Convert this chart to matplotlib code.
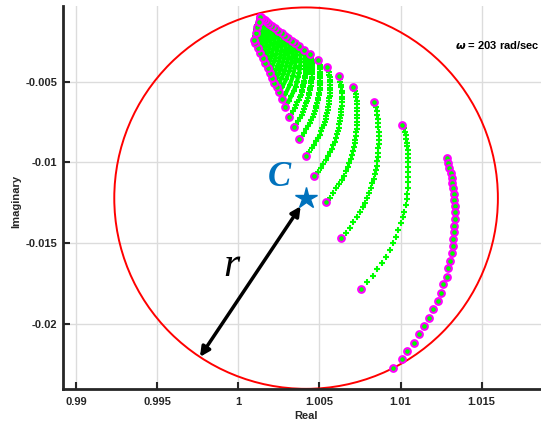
import matplotlib
matplotlib.use("Agg")
import matplotlib.pyplot as plt
from matplotlib.patches import Circle

# ---- data (real / imaginary parts) ----
# outermost curve, every point highlighted
c0_re = [1.01284, 1.01294, 1.01300, 1.01309, 1.01315, 1.01319, 1.01325, 1.01327, 1.01331, 1.01333, 1.01333,
         1.01333, 1.01331, 1.01329, 1.01325, 1.01321, 1.01315, 1.01305, 1.01294, 1.01284, 1.01263, 1.01247,
         1.01229, 1.01202, 1.01177, 1.01146, 1.01115, 1.01083, 1.01041, 1.01007, 1.00955]
c0_im = [-0.00975, -0.01006, -0.01037, -0.01068, -0.01099, -0.01130, -0.01161, -0.01196, -0.01233, -0.01270,
         -0.01309, -0.01351, -0.01392, -0.01433, -0.01475, -0.01518, -0.01563, -0.01609, -0.01656, -0.01708,
         -0.01756, -0.01808, -0.01859, -0.01911, -0.01963, -0.02014, -0.02066, -0.02118, -0.02169, -0.02220,
         -0.02273]

c1_re = [1.01011, 1.01019, 1.01025, 1.01032, 1.01035, 1.01040, 1.01041, 1.01044, 1.01046, 1.01048, 1.01049,
         1.01049, 1.01049, 1.01048, 1.01046, 1.01044, 1.01041, 1.01038, 1.01032, 1.01023, 1.01013, 1.01003,
         1.00986, 1.00972, 1.00955, 1.00935, 1.00910, 1.00884, 1.00857, 1.00828, 1.00795, 1.00756]
c1_im = [-0.00766, -0.00789, -0.00810, -0.00832, -0.00855, -0.00878, -0.00900, -0.00925, -0.00950, -0.00975,
         -0.01001, -0.01029, -0.01060, -0.01090, -0.01125, -0.01161, -0.01196, -0.01229, -0.01264, -0.01306,
         -0.01340, -0.01377, -0.01419, -0.01461, -0.01501, -0.01543, -0.01585, -0.01625, -0.01663, -0.01704,
         -0.01743, -0.01783]

c2_re = [1.00836, 1.00847, 1.00853, 1.00857, 1.00861, 1.00863, 1.00864, 1.00865, 1.00865, 1.00865, 1.00865,
         1.00863, 1.00861, 1.00859, 1.00856, 1.00852, 1.00847, 1.00841, 1.00834, 1.00826, 1.00818, 1.00808,
         1.00796, 1.00783, 1.00767, 1.00750, 1.00731, 1.00710, 1.00687, 1.00661, 1.00631]
c2_im = [-0.00627, -0.00655, -0.00680, -0.00706, -0.00731, -0.00758, -0.00784, -0.00810, -0.00836, -0.00861,
         -0.00888, -0.00914, -0.00940, -0.00967, -0.00993, -0.01020, -0.01047, -0.01075, -0.01103, -0.01131,
         -0.01160, -0.01190, -0.01219, -0.01249, -0.01279, -0.01309, -0.01340, -0.01371, -0.01404, -0.01436,
         -0.01470]

c3_re = [1.00710, 1.00719, 1.00724, 1.00727, 1.00730, 1.00732, 1.00733, 1.00733, 1.00733, 1.00733, 1.00733,
         1.00732, 1.00730, 1.00728, 1.00726, 1.00722, 1.00718, 1.00713, 1.00707, 1.00700, 1.00694, 1.00685,
         1.00675, 1.00664, 1.00651, 1.00637, 1.00622, 1.00604, 1.00586, 1.00564, 1.00540]
c3_im = [-0.00532, -0.00555, -0.00575, -0.00597, -0.00618, -0.00640, -0.00662, -0.00683, -0.00705, -0.00726,
         -0.00749, -0.00770, -0.00793, -0.00815, -0.00837, -0.00860, -0.00883, -0.00907, -0.00931, -0.00955,
         -0.00980, -0.01006, -0.01030, -0.01056, -0.01082, -0.01108, -0.01135, -0.01161, -0.01190, -0.01218,
         -0.01247]

c4_re = [1.00618, 1.00626, 1.00630, 1.00633, 1.00636, 1.00637, 1.00638, 1.00638, 1.00638, 1.00637, 1.00637,
         1.00636, 1.00634, 1.00633, 1.00630, 1.00627, 1.00623, 1.00619, 1.00614, 1.00608, 1.00602, 1.00595,
         1.00586, 1.00577, 1.00565, 1.00553, 1.00539, 1.00524, 1.00508, 1.00489, 1.00468]
c4_im = [-0.00463, -0.00483, -0.00500, -0.00518, -0.00536, -0.00555, -0.00573, -0.00592, -0.00610, -0.00628,
         -0.00648, -0.00667, -0.00686, -0.00705, -0.00724, -0.00744, -0.00764, -0.00785, -0.00806, -0.00827,
         -0.00848, -0.00871, -0.00893, -0.00915, -0.00938, -0.00961, -0.00985, -0.01009, -0.01033, -0.01058,
         -0.01084]

c5_re = [1.00548, 1.00555, 1.00558, 1.00561, 1.00563, 1.00564, 1.00564, 1.00565, 1.00565, 1.00564, 1.00564,
         1.00563, 1.00561, 1.00560, 1.00558, 1.00555, 1.00552, 1.00548, 1.00543, 1.00538, 1.00533, 1.00527,
         1.00519, 1.00511, 1.00501, 1.00490, 1.00479, 1.00466, 1.00452, 1.00436, 1.00417]
c5_im = [-0.00411, -0.00427, -0.00442, -0.00458, -0.00473, -0.00489, -0.00505, -0.00521, -0.00538, -0.00553,
         -0.00570, -0.00587, -0.00604, -0.00621, -0.00638, -0.00655, -0.00673, -0.00692, -0.00710, -0.00729,
         -0.00748, -0.00768, -0.00788, -0.00808, -0.00829, -0.00849, -0.00870, -0.00892, -0.00914, -0.00936,
         -0.00960]

c6_re = [1.00492, 1.00498, 1.00501, 1.00503, 1.00505, 1.00506, 1.00506, 1.00506, 1.00506, 1.00506, 1.00506,
         1.00504, 1.00503, 1.00502, 1.00500, 1.00497, 1.00494, 1.00491, 1.00487, 1.00482, 1.00478, 1.00472,
         1.00465, 1.00458, 1.00450, 1.00440, 1.00430, 1.00419, 1.00406, 1.00393, 1.00377]
c6_im = [-0.00368, -0.00383, -0.00396, -0.00409, -0.00422, -0.00437, -0.00451, -0.00465, -0.00479, -0.00493,
         -0.00508, -0.00523, -0.00537, -0.00553, -0.00568, -0.00584, -0.00599, -0.00616, -0.00632, -0.00649,
         -0.00666, -0.00684, -0.00702, -0.00721, -0.00739, -0.00757, -0.00776, -0.00796, -0.00816, -0.00836,
         -0.00857]

c7_re = [1.00443, 1.00448, 1.00450, 1.00452, 1.00454, 1.00455, 1.00455, 1.00455, 1.00455, 1.00455, 1.00455,
         1.00454, 1.00452, 1.00451, 1.00450, 1.00447, 1.00445, 1.00442, 1.00438, 1.00434, 1.00431, 1.00426,
         1.00420, 1.00414, 1.00406, 1.00398, 1.00390, 1.00379, 1.00368, 1.00356, 1.00343]
c7_im = [-0.00331, -0.00344, -0.00355, -0.00367, -0.00379, -0.00391, -0.00404, -0.00416, -0.00429, -0.00441,
         -0.00455, -0.00468, -0.00482, -0.00496, -0.00510, -0.00524, -0.00539, -0.00554, -0.00569, -0.00585,
         -0.00601, -0.00619, -0.00634, -0.00652, -0.00669, -0.00686, -0.00704, -0.00724, -0.00742, -0.00761,
         -0.00781]

c8_re = [1.00408, 1.00412, 1.00414, 1.00416, 1.00417, 1.00418, 1.00418, 1.00418, 1.00418, 1.00418, 1.00418,
         1.00417, 1.00415, 1.00415, 1.00413, 1.00411, 1.00408, 1.00405, 1.00402, 1.00398, 1.00395, 1.00391,
         1.00385, 1.00380, 1.00373, 1.00365, 1.00358, 1.00348, 1.00338, 1.00327, 1.00315]
c8_im = [-0.00305, -0.00317, -0.00326, -0.00337, -0.00347, -0.00358, -0.00370, -0.00381, -0.00392, -0.00404,
         -0.00416, -0.00428, -0.00440, -0.00453, -0.00466, -0.00479, -0.00493, -0.00507, -0.00521, -0.00535,
         -0.00550, -0.00566, -0.00581, -0.00597, -0.00613, -0.00629, -0.00646, -0.00663, -0.00681, -0.00699,
         -0.00718]

# inner, tightly packed curves
c9_re = [1.00375, 1.00381, 1.00383, 1.00384, 1.00384, 1.00383, 1.00381, 1.00378, 1.00375, 1.00368, 1.00362,
         1.00353, 1.00341, 1.00327, 1.00310, 1.00288]
c9_im = [-0.00280, -0.00299, -0.00317, -0.00337, -0.00358, -0.00379, -0.00401, -0.00424, -0.00449, -0.00474,
         -0.00501, -0.00530, -0.00559, -0.00589, -0.00622, -0.00655]
c10_re = [1.00350, 1.00357, 1.00357, 1.00355, 1.00348, 1.00337, 1.00318, 1.00290, 1.00271]
c10_im = [-0.00261, -0.00295, -0.00332, -0.00372, -0.00416, -0.00465, -0.00519, -0.00578, -0.00610]
c11_re = [1.00329, 1.00336, 1.00336, 1.00333, 1.00326, 1.00315, 1.00297, 1.00270, 1.00251]
c11_im = [-0.00246, -0.00276, -0.00310, -0.00346, -0.00387, -0.00432, -0.00482, -0.00536, -0.00565]
c12_re = [1.00309, 1.00315, 1.00315, 1.00311, 1.00306, 1.00295, 1.00278, 1.00253, 1.00237]
c12_im = [-0.00230, -0.00258, -0.00289, -0.00323, -0.00362, -0.00405, -0.00453, -0.00506, -0.00534]
c13_re = [1.00288, 1.00294, 1.00293, 1.00291, 1.00285, 1.00275, 1.00260, 1.00237, 1.00222]
c13_im = [-0.00215, -0.00240, -0.00269, -0.00301, -0.00337, -0.00379, -0.00426, -0.00478, -0.00506]
c14_re = [1.00267, 1.00272, 1.00272, 1.00269, 1.00264, 1.00256, 1.00243, 1.00223, 1.00210]
c14_im = [-0.00199, -0.00221, -0.00248, -0.00278, -0.00313, -0.00354, -0.00400, -0.00452, -0.00480]
c15_re = [1.00246, 1.00250, 1.00250, 1.00247, 1.00243, 1.00235, 1.00223, 1.00206, 1.00195]
c15_im = [-0.00184, -0.00202, -0.00226, -0.00254, -0.00288, -0.00327, -0.00371, -0.00421, -0.00448]
c16_re = [1.00225, 1.00228, 1.00228, 1.00226, 1.00222, 1.00215, 1.00205, 1.00190, 1.00181]
c16_im = [-0.00168, -0.00184, -0.00205, -0.00231, -0.00262, -0.00299, -0.00342, -0.00391, -0.00417]
c17_re = [1.00207, 1.00209, 1.00209, 1.00206, 1.00202, 1.00196, 1.00186, 1.00173, 1.00165]
c17_im = [-0.00154, -0.00168, -0.00186, -0.00210, -0.00239, -0.00273, -0.00314, -0.00360, -0.00386]
c18_re = [1.00190, 1.00192, 1.00191, 1.00188, 1.00184, 1.00178, 1.00169, 1.00157, 1.00150]
c18_im = [-0.00141, -0.00152, -0.00168, -0.00190, -0.00216, -0.00249, -0.00287, -0.00331, -0.00355]
c19_re = [1.00176, 1.00177, 1.00176, 1.00173, 1.00168, 1.00162, 1.00153, 1.00141, 1.00134]
c19_im = [-0.00131, -0.00140, -0.00153, -0.00172, -0.00196, -0.00226, -0.00261, -0.00302, -0.00324]
c20_re = [1.00162, 1.00163, 1.00161, 1.00158, 1.00153, 1.00146, 1.00138, 1.00127, 1.00120]
c20_im = [-0.00120, -0.00127, -0.00138, -0.00155, -0.00176, -0.00203, -0.00235, -0.00272, -0.00293]
c21_re = [1.00152, 1.00151, 1.00149, 1.00145, 1.00140, 1.00132, 1.00122, 1.00110, 1.00103]
c21_im = [-0.00112, -0.00117, -0.00127, -0.00141, -0.00159, -0.00183, -0.00211, -0.00244, -0.00262]
c22_re = [1.00143, 1.00141, 1.00137, 1.00132, 1.00126, 1.00119, 1.00111, 1.00103, 1.00099]
c22_im = [-0.00103, -0.00108, -0.00116, -0.00128, -0.00143, -0.00162, -0.00186, -0.00217, -0.00241]
c23_re = [1.00139, 1.00136, 1.00131, 1.00125, 1.00118, 1.00112, 1.00108]
c23_im = [-0.00101, -0.00108, -0.00118, -0.00132, -0.00150, -0.00173, -0.00198]
c24_re = [1.00136, 1.00132, 1.00127, 1.00121, 1.00116]
c24_im = [-0.00100, -0.00108, -0.00119, -0.00134, -0.00161]
c25_re = [1.00135, 1.00130, 1.00125]
c25_im = [-0.00100, -0.00112, -0.00130]

outer_curves = [(c1_re, c1_im), (c2_re, c2_im), (c3_re, c3_im), (c4_re, c4_im),
                (c5_re, c5_im), (c6_re, c6_im), (c7_re, c7_im), (c8_re, c8_im)]
inner_curves = [(c9_re, c9_im), (c10_re, c10_im), (c11_re, c11_im), (c12_re, c12_im),
                (c13_re, c13_im), (c14_re, c14_im), (c15_re, c15_im), (c16_re, c16_im),
                (c17_re, c17_im), (c18_re, c18_im), (c19_re, c19_im), (c20_re, c20_im),
                (c21_re, c21_im), (c22_re, c22_im), (c23_re, c23_im), (c24_re, c24_im),
                (c25_re, c25_im)]

center = (1.00418, -0.01222)
radius = 0.01182
r_end = (0.99764, -0.02206)
omega = 203

xticks = [0.99, 0.995, 1.0, 1.005, 1.01, 1.015]
xticklabels = ["0.99", "0.995", "1", "1.005", "1.01", "1.015"]
yticks = [-0.02, -0.015, -0.01, -0.005]
yticklabels = ["-0.02", "-0.015", "-0.01", "-0.005"]

GREEN = "#00FF00"
MAGENTA = "#FF00FF"
BLUE = "#0072BD"

plt.rcParams["font.family"] = ["Liberation Sans", "DejaVu Sans"]
plt.rcParams["font.weight"] = "bold"

fig = plt.figure(figsize=(5.41, 4.26), dpi=100)
ax = fig.add_axes((63 / 541, 37 / 426, 486 / 541, 383 / 426))

for re, im in outer_curves:
    ax.plot(re, im, "+", color=GREEN, ms=4, mew=1.5, zorder=3)
for re, im in inner_curves:
    ax.plot(re, im, "-", color=GREEN, lw=3, zorder=3)
    ax.plot(re, im, "+", color=GREEN, ms=4, mew=1.5, zorder=3)

# highlighted boundary points
ends_re = [c[0][0] for c in outer_curves + inner_curves] + [c[0][-1] for c in outer_curves + inner_curves]
ends_im = [c[1][0] for c in outer_curves + inner_curves] + [c[1][-1] for c in outer_curves + inner_curves]
ax.plot(c0_re, c0_im, "o", mec=MAGENTA, mfc=GREEN, ms=4.8, mew=1.5, zorder=4)
ax.plot(ends_re, ends_im, "o", mec=MAGENTA, mfc=GREEN, ms=4.8, mew=1.5, zorder=4)

ax.add_patch(Circle(center, radius, fill=False, ec="red", lw=1.4, zorder=2))
ax.plot(*center, marker="*", color=BLUE, ms=16, zorder=6)
ax.annotate("", xy=r_end, xytext=center,
            arrowprops=dict(arrowstyle="<|-|>", color="black", lw=2.5,
                            mutation_scale=14, shrinkA=7, shrinkB=0), zorder=5)
ax.text(0.99961, -0.01642, "r", fontsize=30, family="Liberation Serif", style="italic",
        weight="normal", ha="center", va="center")
ax.text(1.00251, -0.01097, "C", fontsize=25, family="Liberation Serif", style="italic",
        weight="bold", color=BLUE, ha="center", va="center")
ax.text(1.01334, -0.00272, r"$\omega$ = %d rad/sec" % omega, fontsize=8, weight="bold", va="center")

ax.set_xlim(0.98920, 1.01915)
ax.set_ylim(-0.02405, -0.00031)
ax.set_xticks(xticks)
ax.set_xticklabels(xticklabels)
ax.set_yticks(yticks)
ax.set_yticklabels(yticklabels)
ax.grid(True, color="#dcdcdc", lw=1)
ax.set_axisbelow(True)
for s in ["top", "right"]:
    ax.spines[s].set_visible(False)
for s in ["left", "bottom"]:
    ax.spines[s].set_linewidth(2)
    ax.spines[s].set_color("#262626")
ax.tick_params(direction="in", length=5, width=1.5, colors="#262626", labelsize=8)
ax.tick_params(axis="x", pad=6)
ax.tick_params(axis="y", pad=4)
ax.set_xlabel("Real", fontsize=8, weight="bold", color="#262626")
ax.set_ylabel("Imaginary", fontsize=8, weight="bold", color="#262626")
ax.xaxis.set_label_coords(0.5, -0.058)
ax.yaxis.set_label_coords(-0.086, 0.49)

fig.savefig("out.png", dpi=100)
